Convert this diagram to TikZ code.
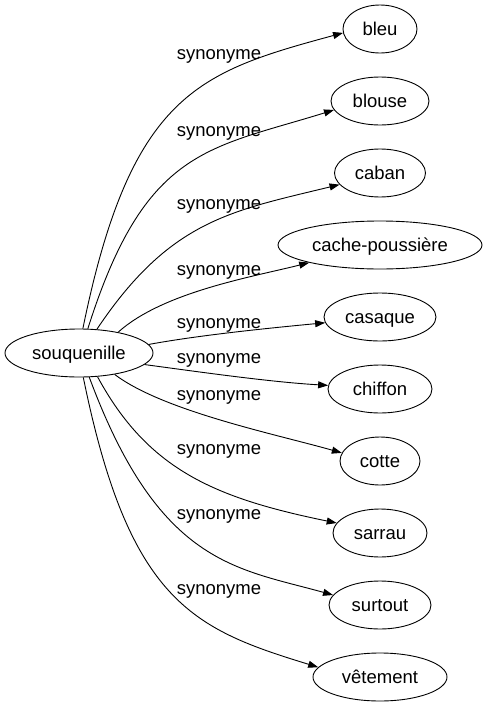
\documentclass[tikz,border=0pt]{standalone}
\usepackage{fontspec}
\setmainfont{Liberation Sans}
\usetikzlibrary{arrows.meta,shapes.geometric}
\begin{document}
\begin{tikzpicture}[x=1pt,y=-1pt,
  every node/.style={font=\fontsize{18.5}{22}\selectfont},
  word/.style={ellipse,draw,line width=0.9pt,inner sep=0pt,minimum height=48pt,text height=14pt,text depth=2pt},
  rel/.style={anchor=base},
  link/.style={draw,line width=0.9pt,-{Triangle[length=10pt,width=7pt]}}]
\useasboundingbox (0,0) rectangle (487,707);
\node[word,minimum width=148pt] (src) at (79,353) {souquenille};
\node[word,minimum width=74pt] (bleu) at (380,29) {bleu};
\node[word,minimum width=98pt] (blouse) at (380,101) {blouse};
\node[word,minimum width=91pt] (caban) at (380,173) {caban};
\node[word,minimum width=204pt] (cp) at (380,245) {cache-poussière};
\node[word,minimum width=112pt] (casaque) at (380,317) {casaque};
\node[word,minimum width=104pt] (chiffon) at (380,389) {chiffon};
\node[word,minimum width=80pt] (cotte) at (380,461) {cotte};
\node[word,minimum width=94pt] (sarrau) at (380,533) {sarrau};
\node[word,minimum width=102pt] (surtout) at (380,605) {surtout};
\node[word,minimum width=134pt] (vetement) at (380,677) {vêtement};
\path[link] (src.81) .. controls (131,93) and (199,72) .. (bleu.186);
\path[link] (src.70) .. controls (145,148) and (208,149) .. (blouse.191);
\path[link] (src.53) .. controls (170,220) and (231,211) .. (caban.196);
\path[link] (src.28) .. controls (163,292) and (252,277) .. (cp.194);
\path[link] (src.7) .. controls (200,335) and (270,328) .. (casaque.186);
\path[link] (src.-10) .. controls (200,372) and (270,382) .. (chiffon.176);
\path[link] (src.-31) .. controls (163,411) and (275,434) .. (cotte.168);
\path[link] (src.-52) .. controls (148,470) and (215,498) .. (sarrau.167);
\path[link] (src.-67) .. controls (159,565) and (236,568) .. (surtout.168);
\path[link] (src.-80) .. controls (129,602) and (193,629) .. (vetement.171);
\node[rel] (l1) at (219,59) {synonyme};
\node[rel] (l2) at (219,136) {synonyme};
\node[rel] (l3) at (219,209) {synonyme};
\node[rel] (l4) at (219,275) {synonyme};
\node[rel] (l5) at (219,328) {synonyme};
\node[rel] (l6) at (219,363) {synonyme};
\node[rel] (l7) at (219,400) {synonyme};
\node[rel] (l8) at (219,454) {synonyme};
\node[rel] (l9) at (219,519) {synonyme};
\node[rel] (l10) at (219,594) {synonyme};
\end{tikzpicture}
\end{document}
